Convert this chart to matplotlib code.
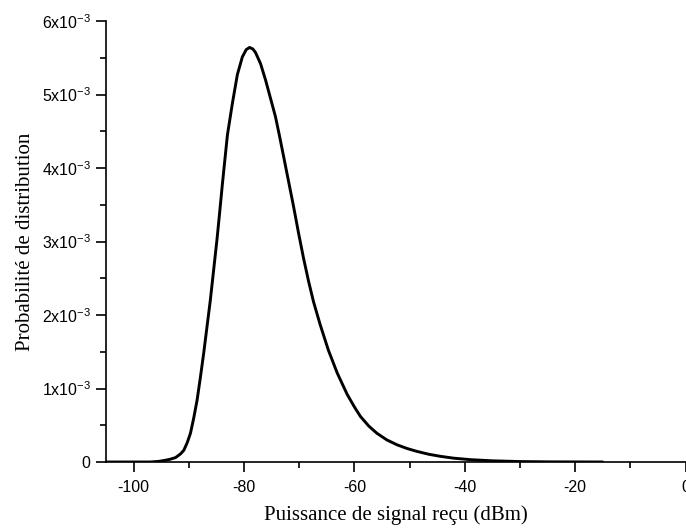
import matplotlib
matplotlib.use("Agg")
import matplotlib.pyplot as plt
from matplotlib.ticker import MultipleLocator, FixedLocator, FuncFormatter

plt.rcParams['mathtext.fontset'] = 'custom'
plt.rcParams['mathtext.rm'] = 'Liberation Sans'
plt.rcParams['mathtext.it'] = 'Liberation Sans'
plt.rcParams['font.family'] = ['Liberation Sans', 'DejaVu Sans']

# Received power (dBm) and probability density (x1e-3)
power_dbm = [-105, -97, -95.5, -94.5, -93.5, -92.4, -91.5, -90.9, -90.3, -89.7,
             -89.1, -88.5, -87.9, -87.3, -86.7, -86.1, -85.5, -84.9, -84.4, -83.9,
             -83.0, -82.1, -81.2, -80.3, -79.6, -79.0, -78.4, -77.9, -77.0, -76.1,
             -75.2, -74.3, -73.6, -72.8, -71.9, -71.0, -70.1, -69.2, -68.3, -67.4,
             -66.2, -64.7, -63.1, -61.3, -60.0, -58.9, -57.4, -55.9, -54.1, -52.3,
             -50.5, -48.7, -46.5, -44.4, -42.0, -39.0, -35.0, -30.0, -25.0, -20.0, -15.0]
density_e3 = [0.0, 0.0, 0.008, 0.02, 0.035, 0.06, 0.11, 0.16, 0.26, 0.39,
              0.60, 0.84, 1.15, 1.48, 1.84, 2.20, 2.61, 3.02, 3.40, 3.79,
              4.45, 4.88, 5.27, 5.51, 5.61, 5.64, 5.62, 5.57, 5.42, 5.20,
              4.95, 4.70, 4.45, 4.15, 3.81, 3.47, 3.11, 2.77, 2.46, 2.18,
              1.87, 1.52, 1.21, 0.92, 0.75, 0.62, 0.49, 0.39, 0.30, 0.235,
              0.185, 0.145, 0.105, 0.077, 0.052, 0.032, 0.016, 0.006, 0.002, 0.001, 0.0]
density = [v * 1e-3 for v in density_e3]

x_ticks = [-100, -80, -60, -40, -20, 0]
y_ticks = [0, 1e-3, 2e-3, 3e-3, 4e-3, 5e-3, 6e-3]
x_label = "Puissance de signal reçu (dBm)"
y_label = "Probabilité de distribution"

fig = plt.figure(figsize=(6.86, 5.29), dpi=100)
ax = fig.add_axes([106/686, 1 - 462/529, (685.5 - 106)/686, (462 - 21)/529])

ax.plot(power_dbm, density, color='black', lw=2.1,
        solid_capstyle='round', solid_joinstyle='round')

ax.set_xlim(-105, 0)
ax.set_ylim(0, 6e-3)
ax.spines['top'].set_visible(False)
ax.spines['right'].set_visible(False)
for s in ('left', 'bottom'):
    ax.spines[s].set_linewidth(1.2)

ax.xaxis.set_major_locator(FixedLocator(x_ticks))
ax.xaxis.set_minor_locator(MultipleLocator(10))
ax.yaxis.set_major_locator(FixedLocator(y_ticks))
ax.yaxis.set_minor_locator(MultipleLocator(0.5e-3))

def yfmt(v, pos):
    n = int(round(v * 1e3))
    if n == 0:
        return '0'
    return r'$%d\mathrm{x}10^{-3}$' % n

ax.yaxis.set_major_formatter(FuncFormatter(yfmt))
ax.xaxis.set_major_formatter(FuncFormatter(lambda v, p: '%d' % v))

ax.tick_params(which='major', direction='out', length=7, width=1.2, labelsize=11.5)
ax.tick_params(axis='x', which='major', pad=6)
ax.tick_params(axis='y', which='major', pad=4)
ax.tick_params(which='minor', direction='out', length=4.5, width=1.2)

ax.set_xlabel(x_label, family='Liberation Serif', fontsize=15, labelpad=7)
ax.set_ylabel(y_label, family='Liberation Serif', fontsize=15, labelpad=5)

fig.savefig('out.png', dpi=100, facecolor='white')
